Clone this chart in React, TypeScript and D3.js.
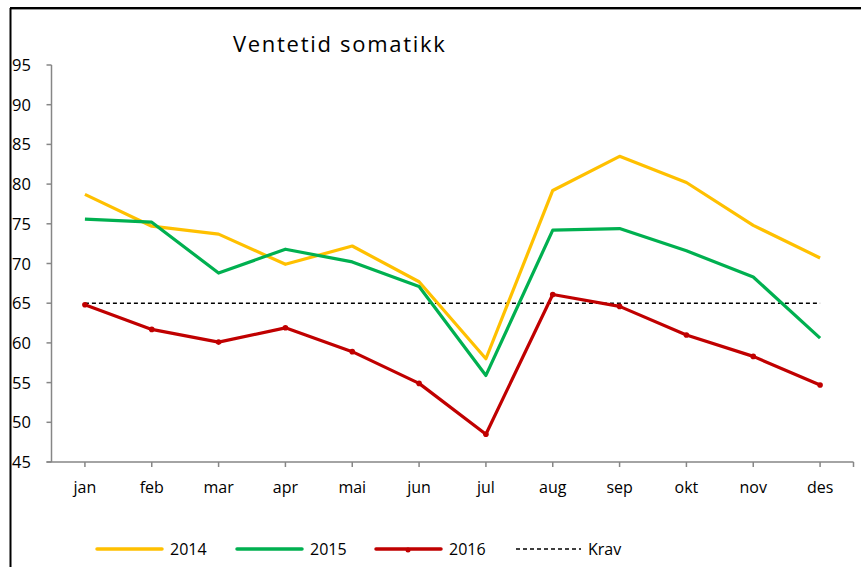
import React from "react";
import * as d3 from "d3";

const months = ["jan", "feb", "mar", "apr", "mai", "jun", "jul", "aug", "sep", "okt", "nov", "des"];
const s2014 = [78.7, 74.7, 73.7, 69.9, 72.2, 67.7, 58.0, 79.2, 83.5, 80.2, 74.8, 70.7];
const s2015 = [75.6, 75.2, 68.8, 71.8, 70.2, 67.1, 55.9, 74.2, 74.4, 71.6, 68.3, 60.6];
const s2016 = [64.8, 61.7, 60.1, 61.9, 58.9, 54.9, 48.5, 66.1, 64.6, 61.0, 58.3, 54.7];
const krav = [65, 65, 65, 65, 65, 65, 65, 65, 65, 65, 65, 65];
const yTicks = [45, 50, 55, 60, 65, 70, 75, 80, 85, 90, 95];
const seriesNames = ["2014", "2015", "2016", "Krav"];

const W = 861, H = 567;
const plot = { left: 51.5, right: 853.5, top: 65, bottom: 462 };
const font = "'Open Sans', 'Liberation Sans', Arial, sans-serif";

export default function App() {
  const x = d3.scaleBand<string>().domain(months).range([plot.left, plot.right]);
  const cx = (m: string) => (x(m) as number) + x.bandwidth() / 2;
  const y = d3.scaleLinear().domain([45, 95]).range([plot.bottom, plot.top]);
  const line = d3.line<number>().x((_, i) => cx(months[i])).y((d) => y(d));
  const axisColor = "#868686";
  const series = [
    { name: seriesNames[0], data: s2014, color: "#FFC000", marker: false },
    { name: seriesNames[1], data: s2015, color: "#00B050", marker: false },
    { name: seriesNames[2], data: s2016, color: "#C00000", marker: true },
  ];
  const legendX = [97, 237, 376, 516];
  return (
    <svg width={W} height={H} style={{ position: "absolute", left: 0, top: 0 }} fontFamily={font}>
      <rect x={0} y={0} width={W} height={H} fill="#fff" />
      <line x1={10} y1={8} x2={W} y2={8} stroke="#000" strokeWidth={2} />
      <line x1={10} y1={9.5} x2={W} y2={9.5} stroke="#999" strokeWidth={1} />
      <line x1={10.5} y1={8} x2={10.5} y2={H} stroke="#000" strokeWidth={2} />
      <text x={233} y={52} fontSize={22} letterSpacing={1.7} fill="#000">Ventetid somatikk</text>
      {/* y axis */}
      <line x1={plot.left} y1={plot.top} x2={plot.left} y2={plot.bottom} stroke={axisColor} strokeWidth={1.5} />
      {yTicks.map((t) => (
        <g key={t}>
          <line x1={plot.left - 5} x2={plot.left} y1={y(t)} y2={y(t)} stroke={axisColor} strokeWidth={1.5} />
          <text x={12} y={y(t) + 6} fontSize={16.5} fill="#000">{t}</text>
        </g>
      ))}
      {/* x axis */}
      <line x1={plot.left - 5} y1={plot.bottom} x2={plot.right} y2={plot.bottom} stroke={axisColor} strokeWidth={1.5} />
      {months.map((m) => (
        <g key={m}>
          <line x1={cx(m)} x2={cx(m)} y1={plot.bottom} y2={plot.bottom + 5} stroke={axisColor} strokeWidth={1.5} />
          <text x={cx(m)} y={493} fontSize={16} textAnchor="middle" fill="#000">{m}</text>
        </g>
      ))}
      <line x1={plot.right} x2={plot.right} y1={plot.bottom} y2={plot.bottom + 5} stroke={axisColor} strokeWidth={1.5} />
      {/* krav */}
      <path d={line(krav) as string} fill="none" stroke="#000" strokeWidth={1.5} strokeDasharray="4 3" />
      {series.map((s) => (
        <g key={s.name}>
          <path d={line(s.data) as string} fill="none" stroke={s.color} strokeWidth={3.2} strokeLinejoin="round" />
          {s.marker && s.data.map((v, i) => (
            <circle key={i} cx={cx(months[i])} cy={y(v)} r={2.8} fill={s.color} />
          ))}
        </g>
      ))}
      {/* legend */}
      {series.map((s, i) => (
        <g key={s.name}>
          <line x1={legendX[i]} x2={legendX[i] + 65} y1={549} y2={549} stroke={s.color} strokeWidth={3.5} strokeLinecap="round" />
          {s.marker && <circle cx={legendX[i] + 32} cy={550} r={2.5} fill={s.color} />}
          <text x={legendX[i] + 73} y={555} fontSize={16} fill="#000">{s.name}</text>
        </g>
      ))}
      <line x1={legendX[3]} x2={legendX[3] + 65} y1={549} y2={549} stroke="#000" strokeWidth={1.5} strokeDasharray="4 3" />
      <text x={legendX[3] + 72} y={555} fontSize={16} fill="#000">{seriesNames[3]}</text>
    </svg>
  );
}
